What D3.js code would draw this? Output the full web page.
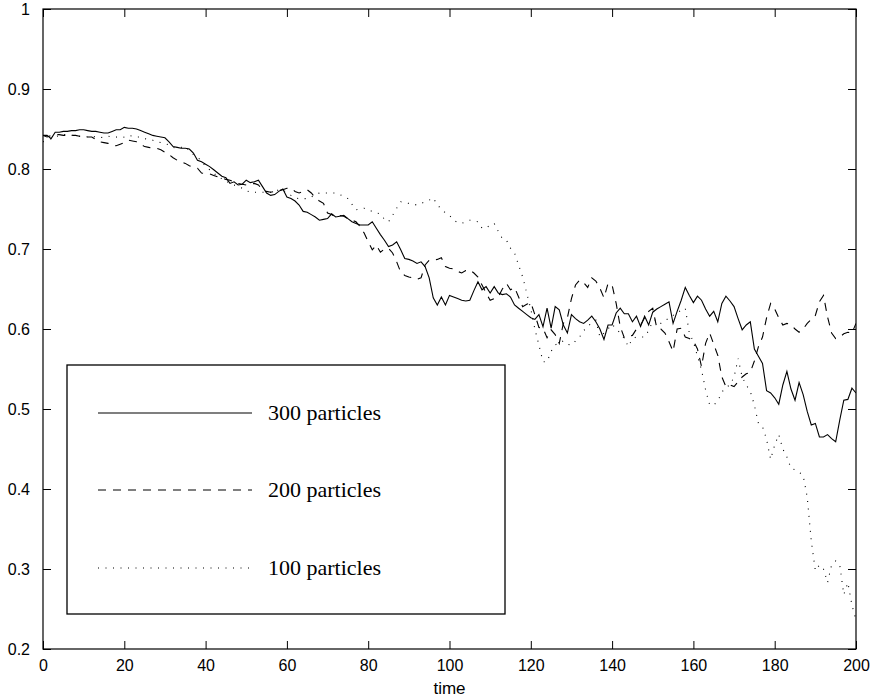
<!DOCTYPE html>
<html>
<head>
<meta charset="utf-8">
<script src="https://cdn.jsdelivr.net/npm/d3@7/dist/d3.min.js"></script>
<style>
  html, body { margin: 0; padding: 0; background: #fff; }
  svg { display: block; }
</style>
</head>
<body>
<svg id="chart" width="874" height="700"></svg>
<script>
// ---- data ----
const xTicks = [0, 20, 40, 60, 80, 100, 120, 140, 160, 180, 200];
const yTicks = [0.2, 0.3, 0.4, 0.5, 0.6, 0.7, 0.8, 0.9, 1];
const yTickLabels = ["0.2", "0.3", "0.4", "0.5", "0.6", "0.7", "0.8", "0.9", "1"];
const xLabel = "time";
const seriesNames = ["300 particles", "200 particles", "100 particles"];

const p300 = [
0.842,0.842,0.838,0.846,0.846,0.847,0.847,0.848,0.848,0.849,
0.849,0.848,0.847,0.847,0.846,0.845,0.845,0.847,0.849,0.849,
0.852,0.851,0.851,0.850,0.848,0.846,0.844,0.842,0.841,0.840,
0.839,0.834,0.828,0.827,0.826,0.826,0.825,0.820,0.811,0.809,
0.806,0.803,0.799,0.795,0.791,0.789,0.782,0.784,0.780,0.781,
0.786,0.783,0.784,0.786,0.778,0.770,0.767,0.768,0.772,0.775,
0.765,0.763,0.760,0.755,0.747,0.746,0.743,0.740,0.736,0.737,
0.738,0.744,0.740,0.741,0.742,0.738,0.734,0.732,0.730,0.730,
0.730,0.734,0.726,0.718,0.711,0.703,0.705,0.709,0.699,0.688,
0.687,0.685,0.682,0.684,0.678,0.664,0.639,0.630,0.640,0.630,
0.642,0.640,0.638,0.636,0.635,0.636,0.648,0.659,0.649,0.653,
0.645,0.653,0.645,0.643,0.644,0.640,0.630,0.626,0.622,0.618,
0.614,0.612,0.618,0.603,0.626,0.601,0.628,0.624,0.605,0.595,
0.618,0.613,0.609,0.607,0.611,0.616,0.609,0.600,0.587,0.605,
0.605,0.620,0.626,0.619,0.619,0.609,0.616,0.603,0.616,0.605,
0.621,0.625,0.628,0.631,0.634,0.607,0.622,0.636,0.652,0.642,
0.633,0.641,0.636,0.625,0.616,0.622,0.609,0.632,0.641,0.635,
0.628,0.613,0.599,0.605,0.609,0.575,0.566,0.557,0.523,0.520,
0.514,0.506,0.530,0.547,0.525,0.511,0.533,0.518,0.497,0.480,
0.482,0.465,0.465,0.468,0.463,0.459,0.486,0.511,0.512,0.526,
0.520];

const p200 = [
0.842,0.840,0.842,0.843,0.843,0.842,0.842,0.842,0.842,0.841,
0.840,0.840,0.840,0.837,0.834,0.833,0.832,0.830,0.829,0.831,
0.833,0.836,0.835,0.834,0.831,0.828,0.827,0.826,0.826,0.824,
0.821,0.818,0.814,0.811,0.809,0.807,0.804,0.802,0.801,0.795,
0.794,0.794,0.792,0.790,0.789,0.787,0.786,0.784,0.782,0.781,
0.780,0.781,0.782,0.780,0.774,0.772,0.771,0.772,0.773,0.774,
0.776,0.776,0.772,0.770,0.772,0.774,0.770,0.764,0.760,0.757,
0.745,0.743,0.740,0.742,0.741,0.738,0.736,0.734,0.728,0.720,
0.709,0.699,0.705,0.696,0.700,0.701,0.695,0.684,0.671,0.667,
0.665,0.664,0.662,0.664,0.680,0.686,0.686,0.687,0.689,0.678,
0.676,0.675,0.672,0.670,0.673,0.674,0.670,0.665,0.655,0.645,
0.636,0.638,0.640,0.650,0.657,0.649,0.652,0.640,0.628,0.631,
0.633,0.618,0.602,0.601,0.589,0.599,0.593,0.582,0.607,0.614,
0.638,0.655,0.661,0.658,0.652,0.664,0.660,0.651,0.639,0.657,
0.655,0.632,0.603,0.589,0.591,0.592,0.600,0.605,0.614,0.622,
0.626,0.601,0.600,0.595,0.584,0.572,0.600,0.601,0.590,0.588,
0.585,0.575,0.553,0.582,0.595,0.581,0.567,0.540,0.528,0.530,
0.528,0.534,0.540,0.544,0.546,0.560,0.578,0.590,0.614,0.632,
0.625,0.614,0.605,0.607,0.605,0.600,0.596,0.600,0.607,0.612,
0.617,0.634,0.642,0.615,0.595,0.588,0.590,0.594,0.596,0.595,
0.607];

const p100 = [
0.834,0.836,0.838,0.840,0.842,0.843,0.843,0.842,0.842,0.841,
0.841,0.840,0.841,0.840,0.839,0.840,0.841,0.840,0.840,0.839,
0.840,0.842,0.841,0.840,0.840,0.838,0.837,0.836,0.834,0.833,
0.832,0.830,0.827,0.826,0.827,0.828,0.823,0.818,0.815,0.810,
0.803,0.799,0.795,0.790,0.788,0.785,0.782,0.780,0.778,0.776,
0.773,0.771,0.771,0.771,0.771,0.771,0.771,0.772,0.774,0.774,
0.770,0.767,0.764,0.763,0.763,0.763,0.765,0.768,0.770,0.770,
0.770,0.770,0.770,0.768,0.766,0.763,0.756,0.749,0.750,0.751,
0.749,0.747,0.745,0.744,0.737,0.734,0.742,0.751,0.759,0.758,
0.757,0.756,0.755,0.757,0.759,0.761,0.764,0.755,0.750,0.745,
0.742,0.736,0.733,0.732,0.734,0.736,0.735,0.734,0.726,0.726,
0.730,0.732,0.722,0.713,0.711,0.701,0.695,0.680,0.665,0.645,
0.625,0.600,0.580,0.559,0.559,0.572,0.580,0.583,0.585,0.581,
0.580,0.585,0.590,0.598,0.603,0.608,0.611,0.590,0.595,0.600,
0.606,0.600,0.595,0.588,0.578,0.588,0.590,0.590,0.590,0.598,
0.610,0.612,0.607,0.610,0.614,0.617,0.621,0.623,0.626,0.595,
0.584,0.566,0.549,0.524,0.505,0.505,0.510,0.521,0.527,0.530,
0.540,0.563,0.540,0.530,0.522,0.505,0.482,0.478,0.462,0.437,
0.455,0.468,0.450,0.440,0.426,0.424,0.421,0.417,0.390,0.335,
0.298,0.305,0.300,0.283,0.305,0.310,0.305,0.268,0.283,0.255,
0.236];

const times = d3.range(0, 201, 1);

// ---- layout ----
const svg = d3.select("#chart");
const L = 43, R = 856, T = 9, B = 649;

const x = d3.scaleLinear().domain([0, 200]).range([L, R]);
const y = d3.scaleLinear().domain([0.2, 1]).range([B, T]);

const tickFont = "'Liberation Sans', Arial, Helvetica, sans-serif";
const tickLen = 8;

// axes (ticks inward)
const gB = svg.append("g").attr("transform", `translate(0,${B})`)
  .call(d3.axisBottom(x).tickValues(xTicks).tickFormat(d3.format("d")).tickSizeInner(-tickLen).tickSizeOuter(0).tickPadding(tickLen + 3));
const gT = svg.append("g").attr("transform", `translate(0,${T})`)
  .call(d3.axisTop(x).tickValues(xTicks).tickFormat("").tickSizeInner(-tickLen).tickSizeOuter(0));
const gL = svg.append("g").attr("transform", `translate(${L},0)`)
  .call(d3.axisLeft(y).tickValues(yTicks).tickFormat((d, i) => yTickLabels[i]).tickSizeInner(-tickLen).tickSizeOuter(0).tickPadding(tickLen + 5));
const gR = svg.append("g").attr("transform", `translate(${R},0)`)
  .call(d3.axisRight(y).tickValues(yTicks).tickFormat("").tickSizeInner(-tickLen).tickSizeOuter(0));

[gB, gT, gL, gR].forEach(g => {
  g.select(".domain").remove();
  g.selectAll("line").attr("stroke", "#000").attr("stroke-width", 1);
  g.selectAll("text").attr("fill", "#000").style("font-family", tickFont).style("font-size", "16px");
});

// frame
svg.append("rect")
  .attr("x", L).attr("y", T).attr("width", R - L).attr("height", B - T)
  .attr("fill", "none").attr("stroke", "#000").attr("stroke-width", 1.2);

// x label
svg.append("text")
  .attr("x", (L + R) / 2).attr("y", 694)
  .attr("text-anchor", "middle")
  .style("font-family", tickFont).style("font-size", "17px")
  .text(xLabel);

// lines
const styles = [
  { data: p300, dash: null, width: 1.1 },
  { data: p200, dash: "8,7", width: 1.1 },
  { data: p100, dash: "1,6.5", width: 1.1 }
];

const line = d3.line().x((d, i) => x(times[i])).y(d => y(d));

svg.append("defs").append("clipPath").attr("id", "clip")
  .append("rect").attr("x", L).attr("y", T).attr("width", R - L).attr("height", B - T);

const plot = svg.append("g").attr("clip-path", "url(#clip)");
styles.forEach(s => {
  plot.append("path")
    .datum(s.data)
    .attr("d", line)
    .attr("fill", "none")
    .attr("stroke", "#000")
    .attr("stroke-width", s.width)
    .attr("stroke-dasharray", s.dash);
});

// legend
const lg = svg.append("g");
lg.append("rect")
  .attr("x", 67).attr("y", 365).attr("width", 438).attr("height", 249)
  .attr("fill", "#fff").attr("stroke", "#000").attr("stroke-width", 1.3);

const legY = [413, 490, 568];
styles.forEach((s, i) => {
  lg.append("line")
    .attr("x1", 98).attr("x2", 252)
    .attr("y1", legY[i]).attr("y2", legY[i])
    .attr("stroke", "#000").attr("stroke-width", s.width)
    .attr("stroke-dasharray", s.dash);
  lg.append("text")
    .attr("x", 268).attr("y", legY[i] + 7)
    .style("font-family", "'Liberation Serif', 'Times New Roman', serif")
    .style("font-size", "22px")
    .attr("fill", "#000")
    .text(seriesNames[i]);
});
</script>
</body>
</html>
